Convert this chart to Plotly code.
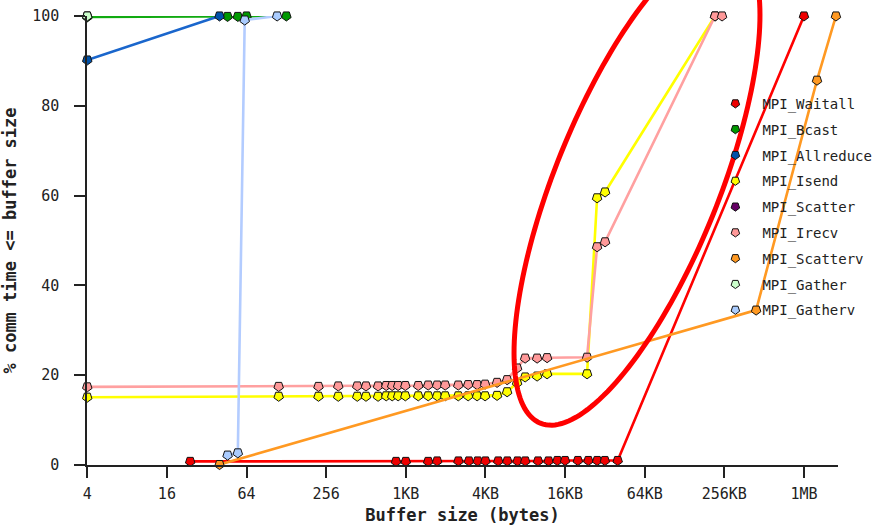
import math
import plotly.graph_objects as go

# Message-size CDFs per MPI call: buffer size (bytes) vs % of comm time
tick_vals = [4, 16, 64, 256, 1024, 4096, 16384, 65536, 262144, 1048576]
tick_text = ["4", "16", "64", "256", "1KB", "4KB", "16KB", "64KB", "256KB", "1MB"]

waitall_x = [24, 864, 1024, 1512, 1768, 2560, 3072, 3584, 4096, 5120, 6000, 7168, 8192,
             10240, 12288, 14336, 16384, 20480, 24576, 28672, 32768, 40960, 1048576]
waitall_y = [0.8, 0.8, 0.8, 0.8, 0.9, 0.9, 0.9, 0.9, 0.9, 0.9, 0.9, 0.9, 0.9,
             0.9, 0.9, 1.0, 1.0, 1.0, 1.0, 1.0, 1.0, 1.0, 100]

bcast_x = [4, 46, 55, 64, 128]
bcast_y = [99.8, 99.9, 99.9, 100, 100]

allreduce_x = [4, 40]
allreduce_y = [90.2, 100]

isend_x = [4, 112, 224, 316, 440, 512, 632, 728, 808, 896, 1016, 1272, 1512, 1768, 2032,
           2552, 3032, 3544, 4072, 5016, 5976, 7112, 8176, 10072, 11984, 24040, 28608,
           32880, 223040]
isend_y = [15.1, 15.3, 15.3, 15.3, 15.3, 15.3, 15.3, 15.4, 15.4, 15.4, 15.4, 15.4, 15.4,
           15.4, 15.4, 15.4, 15.4, 15.4, 15.4, 15.5, 16.3, 18.3, 19.6, 19.8, 20.3, 20.3,
           59.5, 60.8, 100]

scatter_x = [4]
scatter_y = [100]

irecv_x = [4, 112, 224, 316, 440, 512, 632, 728, 808, 896, 1016, 1272, 1512, 1768, 2032,
           2552, 3032, 3544, 4072, 5016, 5976, 7112, 8176, 10072, 11984, 24040, 28608,
           32880, 223040, 252000]
irecv_y = [17.4, 17.5, 17.5, 17.6, 17.6, 17.6, 17.6, 17.7, 17.7, 17.7, 17.7, 17.7, 17.8,
           17.8, 17.8, 17.8, 17.9, 17.9, 18.0, 18.4, 19.0, 21.6, 23.8, 23.8, 23.9, 24.0,
           48.6, 49.7, 100, 100]

scatterv_x = [40, 456000, 1316000, 1830000]
scatterv_y = [0.1, 34.5, 85.7, 100]

gather_x = [4]
gather_y = [100]

gatherv_x = [46, 55, 62, 109]
gatherv_y = [2.2, 2.7, 99.1, 100]

series = [
    ("MPI_Waitall", waitall_x, waitall_y, "#ff0000", "#ee0000"),
    ("MPI_Bcast", bcast_x, bcast_y, "#11aa11", "#009900"),
    ("MPI_Allreduce", allreduce_x, allreduce_y, "#1a66cc", "#0052aa"),
    ("MPI_Isend", isend_x, isend_y, "#ffff00", "#ffff00"),
    ("MPI_Scatter", scatter_x, scatter_y, "#660066", "#660066"),
    ("MPI_Irecv", irecv_x, irecv_y, "#ffa0a0", "#ff9999"),
    ("MPI_Scatterv", scatterv_x, scatterv_y, "#ff9922", "#ff9922"),
    ("MPI_Gather", gather_x, gather_y, "#ccffcc", "#ccffcc"),
    ("MPI_Gatherv", gatherv_x, gatherv_y, "#b3ccff", "#aaccff"),
]

MONO = "DejaVu Sans Mono"
marker_common = dict(symbol="pentagon", angle=180, size=10,
                     line=dict(color="#111111", width=1))

fig = go.Figure()
for i, (name, xs, ys, lc, mc) in enumerate(series):
    fig.add_trace(go.Scatter(
        x=xs, y=ys, mode="lines+markers", name=name, showlegend=False,
        line=dict(color=lc, width=2.6),
        marker=dict(color=mc, **marker_common),
        cliponaxis=False,
    ))
# legend entries show only the marker symbol
for i, (name, xs, ys, lc, mc) in enumerate(series):
    fig.add_trace(go.Scatter(
        x=[None], y=[None], mode="markers", name=name, legendgroup=f"g{i}",
        marker=dict(color=mc, symbol="pentagon", angle=180, size=9,
                    line=dict(color="#111111", width=1)),
    ))

# highlight ellipse around the Isend/Irecv jump (pixel geometry -> paper coords)
L, R, T, B = 87, 838, 16, 465
cx, cy, a, b, tilt = 637, 184, 258, 82, math.radians(22)
ux, uy = math.sin(tilt), -math.cos(tilt)
nx, ny = math.cos(tilt), math.sin(tilt)
pts = []
for k in range(181):
    t = 2 * math.pi * k / 180
    px = cx + a * math.cos(t) * ux + b * math.sin(t) * nx
    py = cy + a * math.cos(t) * uy + b * math.sin(t) * ny
    pts.append(((px - L) / (R - L), (B - py) / (B - T)))
path = "M " + " L ".join(f"{x:.5f},{y:.5f}" for x, y in pts) + " Z"
fig.add_shape(type="path", path=path, xref="paper", yref="paper",
              line=dict(color="#ff0000", width=5), layer="above")

fig.update_layout(
    width=877, height=525,
    margin=dict(l=L, r=877 - R, t=T, b=525 - B, autoexpand=False),
    paper_bgcolor="white", plot_bgcolor="white",
    font=dict(family=MONO, size=15, color="#222222"),
    showlegend=True,
    legend=dict(x=0.8274, y=0.84, xanchor="left", yanchor="top",
                font=dict(family=MONO, size=14, color="#222222"),
                bgcolor="rgba(0,0,0,0)", tracegroupgap=4.6, itemwidth=44),
    xaxis=dict(
        type="log", range=[math.log10(4) - 0.002, 6.278],
        tickmode="array", tickvals=tick_vals, ticktext=tick_text,
        ticks="outside", ticklen=11, tickcolor="#222222", tickwidth=1.5,
        showline=True, linecolor="#222222", linewidth=1.5,
        showgrid=False, zeroline=False, ticklabelstandoff=3, automargin=False,
        title=dict(text="<b>Buffer size (bytes)</b>", font=dict(family=MONO, size=17)),
    ),
    yaxis=dict(
        range=[0, 100], tickvals=[0, 20, 40, 60, 80, 100],
        ticks="outside", ticklen=11, tickcolor="#222222", tickwidth=1.5,
        showline=True, linecolor="#222222", linewidth=1.5,
        showgrid=False, zeroline=False, ticklabelstandoff=12, automargin=False,
        title=dict(text="<b>% comm time <= buffer size</b>",
                   font=dict(family=MONO, size=17)),
    ),
)

fig.write_html("out.html")
